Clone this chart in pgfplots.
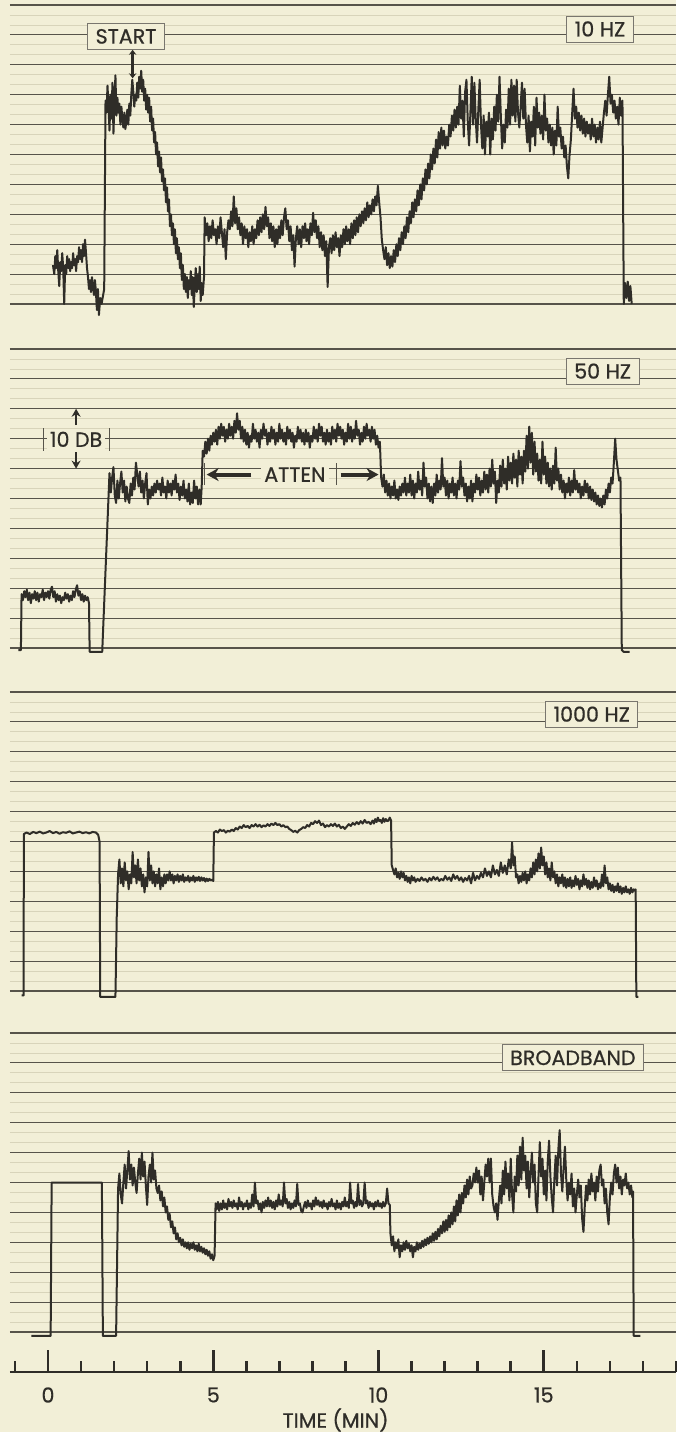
\documentclass[border=0pt]{standalone}
\usepackage{fontspec}
\setmainfont{Poppins}[FakeBold=0.7]
\usepackage{pgfplots}
\usepackage{pgfplotstable}
\pgfplotsset{compat=1.18}
\usetikzlibrary{arrows.meta}
\definecolor{paper}{HTML}{F2EFD7}
\definecolor{ink}{HTML}{2F2D28}
\definecolor{gridc}{HTML}{57544A}
\definecolor{gridl}{HTML}{D8D4BA}
\newcommand\lf{\fontsize{10.3}{12}\selectfont}

% 10 HZ
\pgfplotstableread[row sep=\\]{t d\\
0.15 1.3\\ 0.19 1.0\\ 0.22 1.6\\ 0.25 1.2\\ 0.28 1.8\\ 0.31 1.1\\ 0.34 0.6\\ 0.37 1.4\\ 0.40 1.1\\ 0.43 1.7\\ 0.46 1.2\\ 0.49 0.0\\ 0.52 1.3\\ 0.55 1.0\\ 0.58 1.6\\ 0.61 1.2\\ 0.64 1.5\\ 0.67 1.1\\ 0.70 1.4\\ 0.73 1.2\\ 0.76 1.7\\ 0.79 1.3\\ 0.82 1.5\\ 0.85 1.1\\ 0.88 1.6\\ 0.91 1.4\\ 0.94 1.9\\ 0.97 1.5\\ 1.00 1.8\\ 1.03 1.4\\ 1.06 2.0\\ 1.09 1.6\\ 1.12 2.15\\ 1.15 1.7\\ 1.18 1.2\\ 1.21 0.9\\ 1.24 0.5\\ 1.27 0.8\\ 1.30 0.4\\ 1.33 0.9\\ 1.36 0.6\\ 1.39 0.3\\ 1.42 0.8\\ 1.45 0.4\\ 1.48 -0.2\\ 1.51 0.5\\ 1.54 -0.37\\ 1.58 0.2\\ 1.62 0.0\\
1.70 0.5\\ 1.74 6.8\\ 1.77 6.4\\ 1.80 7.3\\ 1.83 6.6\\ 1.86 5.8\\ 1.89 7.0\\ 1.92 6.2\\ 1.95 7.4\\ 1.98 5.7\\ 2.01 6.8\\ 2.04 7.65\\ 2.07 6.3\\ 2.10 6.9\\ 2.13 6.4\\ 2.16 6.7\\ 2.19 6.0\\ 2.22 6.6\\ 2.25 6.2\\ 2.28 5.9\\ 2.31 6.4\\ 2.34 5.85\\ 2.37 6.1\\ 2.40 6.5\\ 2.43 6.0\\ 2.46 6.7\\ 2.49 6.3\\ 2.52 7.0\\ 2.55 7.5\\ 2.58 7.1\\ 2.61 6.6\\ 2.64 7.0\\ 2.67 6.8\\ 2.70 7.4\\ 2.73 6.9\\ 2.76 7.6\\ 2.79 7.2\\ 2.82 7.8\\ 2.85 7.1\\ 2.88 7.5\\ 2.91 6.8\\ 2.94 7.2\\ 2.97 6.5\\ 3.00 7.0\\ 3.03 6.4\\ 3.06 6.9\\ 3.09 6.1\\ 3.12 6.6\\ 3.15 5.8\\ 3.18 6.2\\ 3.21 5.4\\ 3.24 5.75\\ 3.27 5.0\\ 3.30 5.4\\ 3.33 4.6\\ 3.36 5.1\\ 3.39 4.4\\ 3.42 4.9\\ 3.45 4.1\\ 3.48 4.5\\ 3.51 3.8\\ 3.54 4.2\\ 3.57 3.4\\ 3.60 3.9\\ 3.63 3.1\\ 3.66 3.5\\ 3.69 2.6\\ 3.72 3.0\\ 3.75 2.3\\ 3.78 2.7\\ 3.81 2.0\\ 3.84 2.5\\ 3.87 1.7\\ 3.90 2.2\\ 3.93 1.5\\ 3.96 1.9\\ 3.99 1.2\\ 4.02 1.7\\ 4.05 0.8\\ 4.08 1.3\\ 4.11 0.5\\ 4.14 1.0\\ 4.17 0.4\\ 4.20 0.9\\ 4.23 0.2\\ 4.26 0.8\\ 4.29 0.5\\ 4.32 1.1\\ 4.35 0.3\\ 4.38 0.9\\ 4.41 -0.1\\ 4.44 0.6\\ 4.47 1.2\\ 4.50 0.4\\ 4.53 1.0\\ 4.56 0.5\\ 4.59 1.25\\ 4.62 0.1\\ 4.65 0.7\\ 4.68 0.3\\ 4.72 0.9\\ 4.74 2.9\\
4.78 2.3\\ 4.82 2.7\\ 4.86 2.1\\ 4.90 2.6\\ 4.94 2.2\\ 4.98 2.8\\ 5.02 2.3\\ 5.06 2.5\\ 5.10 2.0\\ 5.14 2.6\\ 5.18 2.2\\ 5.22 2.9\\ 5.26 2.4\\ 5.30 1.9\\ 5.34 2.5\\ 5.38 1.5\\ 5.42 2.4\\ 5.46 2.8\\ 5.50 2.5\\ 5.54 3.1\\ 5.58 2.6\\ 5.62 3.6\\ 5.66 2.7\\ 5.70 3.2\\ 5.74 2.5\\ 5.78 2.9\\ 5.82 2.3\\ 5.86 2.7\\ 5.90 2.0\\ 5.94 2.6\\ 5.98 2.2\\ 6.02 2.5\\ 6.06 1.9\\ 6.10 2.4\\ 6.14 2.1\\ 6.18 2.6\\ 6.22 2.0\\ 6.26 2.5\\ 6.30 2.2\\ 6.34 2.8\\ 6.38 2.3\\ 6.42 2.9\\ 6.46 2.4\\ 6.50 3.0\\ 6.54 2.5\\ 6.58 3.25\\ 6.62 2.6\\ 6.66 2.9\\ 6.70 2.2\\ 6.74 2.7\\ 6.78 2.1\\ 6.82 2.6\\ 6.86 1.9\\ 6.90 2.5\\ 6.94 2.0\\ 6.98 2.6\\ 7.02 2.2\\ 7.06 2.8\\ 7.10 2.3\\ 7.14 2.9\\ 7.18 3.2\\ 7.22 2.5\\ 7.26 2.8\\ 7.30 2.1\\ 7.34 2.6\\ 7.38 1.8\\ 7.42 2.3\\ 7.46 1.25\\ 7.50 2.2\\ 7.54 2.6\\ 7.58 2.0\\ 7.62 2.5\\ 7.66 1.9\\ 7.70 2.6\\ 7.74 2.2\\ 7.78 2.7\\ 7.82 2.1\\ 7.86 2.5\\ 7.90 2.0\\ 7.94 2.7\\ 7.98 2.3\\ 8.02 3.05\\ 8.06 2.4\\ 8.10 2.8\\ 8.14 2.2\\ 8.18 2.6\\ 8.22 1.9\\ 8.26 2.4\\ 8.30 1.8\\ 8.34 2.3\\ 8.38 1.6\\ 8.42 2.1\\ 8.46 0.57\\ 8.50 1.9\\ 8.54 2.2\\ 8.58 1.7\\ 8.62 2.3\\ 8.66 1.8\\ 8.70 2.4\\ 8.74 1.9\\ 8.78 2.2\\ 8.82 1.6\\ 8.86 2.3\\ 8.90 1.9\\ 8.94 2.5\\ 8.98 2.0\\ 9.02 2.6\\ 9.06 2.1\\ 9.10 2.5\\ 9.14 2.0\\ 9.18 2.7\\ 9.22 2.2\\ 9.26 2.8\\ 9.30 2.3\\ 9.34 2.9\\ 9.38 2.4\\ 9.42 3.0\\ 9.46 2.6\\ 9.50 3.1\\ 9.54 2.7\\ 9.58 3.2\\ 9.62 2.8\\ 9.66 3.4\\ 9.70 2.9\\ 9.74 3.3\\ 9.78 3.0\\ 9.82 3.5\\ 9.86 3.1\\ 9.90 3.6\\ 9.94 3.3\\ 9.98 3.95\\ 10.02 3.4\\ 10.06 2.9\\
10.10 2.15\\ 10.14 1.8\\ 10.18 1.5\\ 10.22 1.9\\ 10.26 1.3\\ 10.30 1.7\\ 10.34 1.2\\ 10.38 1.6\\ 10.42 1.25\\ 10.46 1.8\\ 10.50 1.4\\ 10.54 2.0\\ 10.58 1.6\\ 10.62 2.2\\ 10.66 1.8\\ 10.70 2.4\\ 10.74 2.0\\ 10.78 2.6\\ 10.82 2.2\\ 10.86 2.9\\ 10.90 2.4\\ 10.94 3.1\\ 10.98 2.7\\ 11.02 3.4\\ 11.06 2.9\\ 11.10 3.5\\ 11.14 3.1\\ 11.18 3.8\\ 11.22 3.3\\ 11.26 4.0\\ 11.30 3.5\\ 11.34 4.2\\ 11.38 3.8\\ 11.42 4.5\\ 11.46 4.0\\ 11.50 4.7\\ 11.54 4.2\\ 11.58 5.0\\ 11.62 4.5\\ 11.66 5.2\\ 11.70 4.7\\ 11.74 5.5\\ 11.78 4.9\\ 11.82 5.75\\ 11.86 5.2\\ 11.90 5.9\\ 11.94 5.3\\ 11.98 5.8\\ 12.02 5.2\\ 12.06 5.6\\ 12.10 5.3\\ 12.14 6.0\\ 12.18 5.6\\ 12.22 6.3\\ 12.26 5.8\\ 12.30 6.5\\ 12.34 5.9\\ 12.38 6.6\\ 12.42 6.0\\ 12.46 7.3\\ 12.50 6.2\\ 12.54 6.8\\ 12.58 5.6\\ 12.62 7.1\\ 12.66 7.5\\ 12.70 6.1\\ 12.74 5.3\\ 12.78 6.4\\ 12.82 7.6\\ 12.86 6.0\\ 12.90 7.4\\ 12.94 6.2\\ 12.98 5.4\\ 13.02 6.5\\ 13.06 7.5\\ 13.10 6.0\\ 13.14 5.2\\ 13.18 6.3\\ 13.22 5.0\\ 13.26 6.1\\ 13.30 5.6\\ 13.34 6.4\\ 13.38 5.0\\ 13.42 6.2\\ 13.46 5.5\\ 13.50 6.6\\ 13.54 5.8\\ 13.58 7.0\\ 13.62 6.1\\ 13.66 7.6\\ 13.70 6.3\\ 13.74 5.2\\ 13.78 6.0\\ 13.82 5.4\\ 13.86 6.5\\ 13.90 5.9\\ 13.94 7.2\\ 13.98 6.0\\ 14.02 7.5\\ 14.06 6.3\\ 14.10 7.3\\ 14.14 6.1\\ 14.18 7.5\\ 14.22 6.4\\ 14.26 5.9\\ 14.30 6.6\\ 14.34 7.4\\ 14.38 6.2\\ 14.42 7.2\\ 14.46 6.0\\ 14.50 5.4\\ 14.54 6.3\\ 14.58 5.1\\ 14.62 6.1\\ 14.66 5.6\\ 14.70 6.6\\ 14.74 5.3\\ 14.78 6.9\\ 14.82 5.9\\ 14.86 6.4\\ 14.90 5.7\\ 14.94 6.3\\ 14.98 5.5\\ 15.02 7.0\\ 15.06 5.8\\ 15.10 6.2\\ 15.14 5.4\\ 15.18 6.0\\ 15.22 5.3\\ 15.26 5.9\\ 15.30 5.0\\ 15.34 5.8\\ 15.38 5.3\\ 15.42 6.6\\ 15.46 5.6\\ 15.50 5.9\\ 15.54 5.2\\ 15.58 5.6\\ 15.62 4.9\\ 15.66 5.3\\ 15.70 4.6\\ 15.74 4.2\\ 15.78 5.0\\ 15.82 5.5\\ 15.86 6.4\\ 15.90 7.2\\ 15.94 6.2\\ 15.98 6.6\\ 16.02 5.9\\ 16.06 6.4\\ 16.10 5.8\\ 16.14 6.3\\ 16.18 5.7\\ 16.22 6.2\\ 16.26 5.6\\ 16.30 6.1\\ 16.34 5.7\\ 16.38 6.0\\ 16.42 5.5\\ 16.46 6.2\\ 16.50 5.6\\ 16.54 6.0\\ 16.58 5.4\\ 16.62 5.9\\ 16.66 5.5\\ 16.70 6.1\\ 16.74 5.4\\ 16.78 5.9\\ 16.82 6.4\\ 16.86 6.8\\ 16.90 6.3\\ 16.94 7.0\\ 16.98 7.6\\ 17.02 6.7\\ 17.06 7.0\\ 17.10 6.4\\ 17.14 6.8\\ 17.18 6.2\\ 17.22 6.6\\ 17.26 6.0\\ 17.30 6.9\\ 17.34 6.3\\ 17.38 6.8\\ 17.42 0.0\\ 17.46 0.7\\ 17.50 0.2\\ 17.54 0.75\\ 17.58 0.1\\ 17.62 0.6\\ 17.66 0.0\\
}\tenhz

% 50 HZ
\pgfplotstableread[row sep=\\]{t d\\
-0.90 -0.07\\ -0.82 -0.07\\ -0.80 1.8\\ -0.76 1.6\\ -0.72 1.9\\ -0.68 1.7\\ -0.64 1.95\\ -0.60 1.6\\ -0.56 1.85\\ -0.52 1.5\\ -0.48 1.8\\ -0.44 1.65\\ -0.40 1.9\\ -0.36 1.6\\ -0.32 1.85\\ -0.28 1.55\\ -0.24 1.8\\ -0.20 1.7\\ -0.16 1.95\\ -0.12 1.6\\ -0.08 1.85\\ -0.04 1.7\\ 0.00 1.9\\ 0.04 1.65\\ 0.08 1.95\\ 0.12 2.05\\ 0.16 1.7\\ 0.20 1.9\\ 0.24 1.55\\ 0.28 1.8\\ 0.32 1.6\\ 0.36 1.75\\ 0.40 1.5\\ 0.44 1.7\\ 0.48 1.6\\ 0.52 1.85\\ 0.56 1.65\\ 0.60 1.8\\ 0.64 1.55\\ 0.68 1.75\\ 0.72 1.6\\ 0.76 1.9\\ 0.80 1.7\\ 0.84 1.95\\ 0.88 2.1\\ 0.92 1.75\\ 0.96 1.9\\ 1.00 1.6\\ 1.04 1.8\\ 1.08 1.55\\ 1.12 1.75\\ 1.16 1.6\\ 1.20 1.7\\ 1.24 1.5\\ 1.26 -0.13\\ 1.64 -0.13\\
1.86 5.85\\ 1.90 5.2\\ 1.94 5.7\\ 1.98 6.05\\ 2.02 5.1\\ 2.06 4.85\\ 2.10 5.6\\ 2.14 5.0\\ 2.18 5.5\\ 2.22 5.9\\ 2.26 5.2\\ 2.30 5.6\\ 2.34 4.9\\ 2.38 5.4\\ 2.42 5.0\\ 2.46 4.85\\ 2.50 5.5\\ 2.54 5.1\\ 2.58 5.7\\ 2.62 5.3\\ 2.66 6.2\\ 2.70 5.8\\ 2.74 5.4\\ 2.78 5.9\\ 2.82 5.2\\ 2.86 5.6\\ 2.90 5.0\\ 2.94 5.5\\ 2.98 5.85\\ 3.02 4.8\\ 3.06 5.3\\ 3.10 5.0\\ 3.14 5.4\\ 3.18 5.1\\ 3.22 5.5\\ 3.26 5.2\\ 3.30 5.6\\ 3.34 5.3\\ 3.38 5.5\\ 3.42 5.1\\ 3.46 5.7\\ 3.50 5.2\\ 3.54 5.4\\ 3.58 5.0\\ 3.62 5.6\\ 3.66 5.2\\ 3.70 5.5\\ 3.74 5.1\\ 3.78 5.6\\ 3.82 5.3\\ 3.86 5.8\\ 3.90 5.2\\ 3.94 5.5\\ 3.98 4.95\\ 4.02 5.4\\ 4.06 5.1\\ 4.10 5.6\\ 4.14 5.0\\ 4.18 5.3\\ 4.22 4.9\\ 4.26 5.5\\ 4.30 4.8\\ 4.34 5.2\\ 4.38 4.85\\ 4.42 5.6\\ 4.46 5.0\\ 4.50 5.4\\ 4.54 4.8\\ 4.58 5.3\\ 4.62 4.8\\ 4.65 5.4\\
4.68 6.6\\ 4.72 6.4\\ 4.76 6.9\\ 4.80 6.5\\ 4.84 7.0\\ 4.88 6.6\\ 4.92 7.1\\ 4.96 6.8\\ 5.00 7.2\\ 5.04 6.9\\ 5.08 7.3\\ 5.12 6.8\\ 5.16 7.4\\ 5.20 7.0\\ 5.24 7.5\\ 5.28 7.1\\ 5.32 7.4\\ 5.36 6.9\\ 5.40 7.3\\ 5.44 7.0\\ 5.48 7.5\\ 5.52 7.1\\ 5.56 7.4\\ 5.60 7.0\\ 5.64 7.6\\ 5.68 7.2\\ 5.72 7.85\\ 5.76 7.3\\ 5.80 7.6\\ 5.84 7.0\\ 5.88 7.4\\ 5.92 6.9\\ 5.96 7.3\\ 6.00 6.8\\ 6.04 7.2\\ 6.08 6.7\\ 6.12 7.1\\ 6.16 6.9\\ 6.20 7.5\\ 6.24 7.0\\ 6.28 7.3\\ 6.32 6.9\\ 6.36 7.2\\ 6.40 6.7\\ 6.44 7.3\\ 6.48 7.0\\ 6.52 7.5\\ 6.56 7.1\\ 6.60 7.3\\ 6.64 6.8\\ 6.68 7.2\\ 6.72 6.9\\ 6.76 7.4\\ 6.80 7.0\\ 6.84 7.3\\ 6.88 6.8\\ 6.92 7.2\\ 6.96 6.9\\ 7.00 7.5\\ 7.04 7.0\\ 7.08 7.3\\ 7.12 6.9\\ 7.16 7.2\\ 7.20 6.8\\ 7.24 7.4\\ 7.28 7.0\\ 7.32 7.3\\ 7.36 6.9\\ 7.40 7.2\\ 7.44 6.7\\ 7.48 7.1\\ 7.52 6.9\\ 7.56 7.4\\ 7.60 7.0\\ 7.64 7.3\\ 7.68 6.9\\ 7.72 7.2\\ 7.76 6.8\\ 7.80 7.3\\ 7.84 6.9\\ 7.88 7.2\\ 7.92 6.7\\ 7.96 7.1\\ 8.00 6.9\\ 8.04 7.4\\ 8.08 7.0\\ 8.12 7.3\\ 8.16 6.9\\ 8.20 7.5\\ 8.24 7.1\\ 8.28 7.4\\ 8.32 6.9\\ 8.36 7.2\\ 8.40 6.8\\ 8.44 7.3\\ 8.48 6.9\\ 8.52 7.2\\ 8.56 6.8\\ 8.60 7.4\\ 8.64 7.0\\ 8.68 7.3\\ 8.72 6.9\\ 8.76 7.5\\ 8.80 7.1\\ 8.84 7.4\\ 8.88 7.0\\ 8.92 7.3\\ 8.96 6.8\\ 9.00 7.2\\ 9.04 6.9\\ 9.08 7.5\\ 9.12 7.0\\ 9.16 7.4\\ 9.20 6.9\\ 9.24 7.3\\ 9.28 7.0\\ 9.32 7.6\\ 9.36 7.1\\ 9.40 7.3\\ 9.44 6.8\\ 9.48 7.2\\ 9.52 6.9\\ 9.56 7.4\\ 9.60 7.0\\ 9.64 7.5\\ 9.68 7.1\\ 9.72 7.3\\ 9.76 6.9\\ 9.80 7.4\\ 9.84 7.0\\ 9.88 7.3\\ 9.92 6.8\\ 9.96 7.1\\ 10.00 6.7\\ 10.04 6.9\\
10.08 5.7\\ 10.12 5.4\\ 10.16 5.8\\ 10.20 5.2\\ 10.24 5.6\\ 10.28 5.1\\ 10.32 5.5\\ 10.36 5.0\\ 10.40 5.4\\ 10.44 5.1\\ 10.48 5.6\\ 10.52 5.0\\ 10.56 5.3\\ 10.60 4.95\\ 10.64 5.4\\ 10.68 5.1\\ 10.72 5.5\\ 10.76 5.2\\ 10.80 5.7\\ 10.84 5.1\\ 10.88 5.5\\ 10.92 5.2\\ 10.96 5.8\\ 11.00 5.1\\ 11.04 5.6\\ 11.08 5.0\\ 11.12 5.5\\ 11.16 5.2\\ 11.20 5.9\\ 11.24 5.3\\ 11.28 5.6\\ 11.32 5.1\\ 11.36 6.2\\ 11.40 5.4\\ 11.44 5.7\\ 11.48 5.0\\ 11.52 5.5\\ 11.56 4.9\\ 11.60 5.4\\ 11.64 4.85\\ 11.68 5.5\\ 11.72 5.1\\ 11.76 5.8\\ 11.80 5.2\\ 11.84 5.6\\ 11.88 5.3\\ 11.92 6.35\\ 11.96 5.4\\ 12.00 5.7\\ 12.04 5.1\\ 12.08 5.6\\ 12.12 5.0\\ 12.16 5.5\\ 12.20 5.2\\ 12.24 5.7\\ 12.28 5.1\\ 12.32 5.5\\ 12.36 5.0\\ 12.40 5.6\\ 12.44 5.3\\ 12.48 6.25\\ 12.52 5.4\\ 12.56 5.7\\ 12.60 5.1\\ 12.64 5.5\\ 12.68 4.9\\ 12.72 5.4\\ 12.76 5.0\\ 12.80 5.6\\ 12.84 4.9\\ 12.88 5.5\\ 12.92 5.2\\ 12.96 5.8\\ 13.00 5.3\\ 13.04 5.7\\ 13.08 5.1\\ 13.12 5.6\\ 13.16 5.2\\ 13.20 5.9\\ 13.24 5.3\\ 13.28 5.8\\ 13.32 5.2\\ 13.36 6.0\\ 13.40 5.4\\ 13.44 6.3\\ 13.48 5.5\\ 13.52 5.9\\ 13.56 4.85\\ 13.60 5.6\\ 13.64 5.2\\ 13.68 6.1\\ 13.72 5.4\\ 13.76 6.3\\ 13.80 5.5\\ 13.84 6.0\\ 13.88 5.3\\ 13.92 6.4\\ 13.96 5.6\\ 14.00 6.2\\ 14.04 5.5\\ 14.08 6.5\\ 14.12 5.7\\ 14.16 6.3\\ 14.20 5.4\\ 14.24 6.6\\ 14.28 5.8\\ 14.32 6.4\\ 14.36 5.5\\ 14.40 6.6\\ 14.44 5.9\\ 14.48 7.1\\ 14.52 6.0\\ 14.56 7.4\\ 14.60 6.2\\ 14.64 7.2\\ 14.68 5.8\\ 14.72 6.9\\ 14.76 5.9\\ 14.80 6.5\\ 14.84 5.6\\ 14.88 6.3\\ 14.92 5.5\\ 14.96 6.9\\ 15.00 5.8\\ 15.04 6.4\\ 15.08 5.5\\ 15.12 6.2\\ 15.16 5.4\\ 15.20 6.0\\ 15.24 5.3\\ 15.28 6.1\\ 15.32 5.5\\ 15.36 6.7\\ 15.40 5.6\\ 15.44 6.0\\ 15.48 5.3\\ 15.52 5.8\\ 15.56 5.2\\ 15.60 5.6\\ 15.64 5.0\\ 15.68 5.5\\ 15.72 5.2\\ 15.76 5.7\\ 15.80 5.1\\ 15.84 5.6\\ 15.88 5.2\\ 15.92 5.95\\ 15.96 5.3\\ 16.00 5.6\\ 16.04 5.2\\ 16.08 5.5\\ 16.12 5.0\\ 16.16 5.4\\ 16.20 5.1\\ 16.24 5.6\\ 16.28 5.2\\ 16.32 5.5\\ 16.36 5.0\\ 16.40 5.4\\ 16.44 4.95\\ 16.48 5.3\\ 16.52 4.9\\ 16.56 5.2\\ 16.60 4.8\\ 16.64 5.1\\ 16.68 4.75\\ 16.72 5.0\\ 16.76 4.7\\ 16.80 5.1\\ 16.84 4.8\\ 16.88 5.3\\ 16.92 5.0\\ 16.96 5.5\\ 17.00 5.2\\ 17.04 5.7\\ 17.08 5.5\\ 17.12 6.2\\ 17.16 7.0\\ 17.20 6.3\\ 17.24 5.95\\ 17.28 5.6\\ 17.32 5.7\\ 17.36 -0.07\\ 17.42 -0.13\\ 17.60 -0.13\\
}\fiftyhz

% 1000 HZ
\pgfplotstableread[row sep=\\]{t d\\
-0.80 -0.15\\ -0.74 -0.15\\ -0.73 5.25\\ -0.65 5.3\\ -0.55 5.25\\ -0.45 5.32\\ -0.35 5.28\\ -0.25 5.33\\ -0.15 5.27\\ -0.05 5.3\\ 0.05 5.35\\ 0.15 5.28\\ 0.25 5.32\\ 0.35 5.26\\ 0.45 5.31\\ 0.55 5.29\\ 0.65 5.34\\ 0.75 5.27\\ 0.85 5.3\\ 0.95 5.33\\ 1.05 5.28\\ 1.15 5.31\\ 1.25 5.27\\ 1.35 5.32\\ 1.45 5.3\\ 1.52 5.22\\ 1.56 5.0\\ 1.58 -0.2\\ 2.04 -0.2\\
2.08 2.5\\ 2.12 3.9\\ 2.16 4.4\\ 2.20 3.6\\ 2.24 4.1\\ 2.28 3.5\\ 2.32 4.3\\ 2.36 3.7\\ 2.40 4.0\\ 2.44 3.4\\ 2.48 3.9\\ 2.52 3.6\\ 2.56 4.65\\ 2.60 3.8\\ 2.64 4.2\\ 2.68 3.6\\ 2.72 4.4\\ 2.76 3.7\\ 2.80 4.1\\ 2.84 3.5\\ 2.88 3.9\\ 2.92 3.3\\ 2.96 3.8\\ 3.00 3.5\\ 3.04 4.65\\ 3.08 3.7\\ 3.12 4.2\\ 3.16 3.6\\ 3.20 4.0\\ 3.24 3.5\\ 3.28 3.9\\ 3.32 3.6\\ 3.36 4.1\\ 3.40 3.4\\ 3.44 3.8\\ 3.48 3.5\\ 3.52 3.9\\ 3.56 3.6\\ 3.60 3.9\\ 3.64 3.7\\ 3.68 4.0\\ 3.72 3.7\\ 3.76 3.9\\ 3.80 3.6\\ 3.84 3.85\\ 3.88 3.7\\ 3.92 3.9\\ 3.96 3.65\\ 4.00 3.85\\ 4.04 3.7\\ 4.08 3.9\\ 4.12 3.65\\ 4.16 3.8\\ 4.20 3.7\\ 4.24 3.85\\ 4.28 3.65\\ 4.32 3.8\\ 4.36 3.7\\ 4.40 3.85\\ 4.44 3.65\\ 4.48 3.8\\ 4.52 3.7\\ 4.56 3.82\\ 4.60 3.68\\ 4.64 3.8\\ 4.68 3.7\\ 4.72 3.78\\ 4.76 3.66\\ 4.80 3.76\\ 4.84 3.68\\ 4.88 3.75\\ 4.92 3.7\\ 4.96 3.72\\ 5.00 3.68\\
5.02 5.3\\ 5.08 5.35\\ 5.14 5.3\\ 5.20 5.4\\ 5.26 5.35\\ 5.32 5.38\\ 5.38 5.3\\ 5.44 5.36\\ 5.50 5.33\\ 5.56 5.4\\ 5.62 5.35\\ 5.68 5.45\\ 5.74 5.4\\ 5.80 5.5\\ 5.86 5.45\\ 5.92 5.55\\ 5.98 5.48\\ 6.04 5.52\\ 6.10 5.45\\ 6.16 5.55\\ 6.22 5.5\\ 6.28 5.58\\ 6.34 5.5\\ 6.40 5.56\\ 6.46 5.48\\ 6.52 5.54\\ 6.58 5.5\\ 6.64 5.58\\ 6.70 5.52\\ 6.76 5.6\\ 6.82 5.55\\ 6.88 5.62\\ 6.94 5.55\\ 7.00 5.58\\ 7.06 5.5\\ 7.12 5.55\\ 7.18 5.48\\ 7.24 5.5\\ 7.30 5.42\\ 7.36 5.38\\ 7.42 5.32\\ 7.48 5.36\\ 7.54 5.3\\ 7.60 5.38\\ 7.66 5.42\\ 7.72 5.48\\ 7.78 5.45\\ 7.84 5.55\\ 7.90 5.5\\ 7.96 5.62\\ 8.02 5.58\\ 8.08 5.68\\ 8.14 5.62\\ 8.20 5.7\\ 8.26 5.55\\ 8.32 5.6\\ 8.38 5.48\\ 8.44 5.55\\ 8.50 5.5\\ 8.56 5.58\\ 8.62 5.52\\ 8.68 5.6\\ 8.74 5.5\\ 8.80 5.56\\ 8.86 5.45\\ 8.92 5.5\\ 8.98 5.42\\ 9.04 5.5\\ 9.10 5.58\\ 9.16 5.52\\ 9.22 5.62\\ 9.28 5.56\\ 9.34 5.65\\ 9.40 5.58\\ 9.46 5.68\\ 9.52 5.6\\ 9.58 5.72\\ 9.64 5.62\\ 9.70 5.66\\ 9.76 5.58\\ 9.82 5.7\\ 9.86 5.6\\ 9.90 5.75\\ 9.94 5.65\\ 9.98 5.8\\ 10.02 5.68\\ 10.06 5.72\\ 10.10 5.62\\ 10.14 5.78\\ 10.18 5.66\\ 10.22 5.75\\ 10.26 5.68\\ 10.30 5.7\\ 10.34 5.8\\ 10.38 5.7\\
10.40 4.2\\ 10.44 4.05\\ 10.48 3.9\\ 10.52 4.1\\ 10.56 3.8\\ 10.60 3.95\\ 10.64 3.75\\ 10.68 4.0\\ 10.72 3.8\\ 10.76 3.95\\ 10.80 3.7\\ 10.84 3.85\\ 10.88 3.65\\ 10.92 3.8\\ 10.96 3.6\\ 11.00 3.85\\ 11.04 3.7\\ 11.08 3.8\\ 11.12 3.65\\ 11.18 3.75\\ 11.24 3.68\\ 11.30 3.8\\ 11.36 3.7\\ 11.42 3.75\\ 11.48 3.65\\ 11.54 3.78\\ 11.60 3.7\\ 11.66 3.82\\ 11.72 3.72\\ 11.78 3.8\\ 11.84 3.68\\ 11.90 3.75\\ 11.96 3.7\\ 12.02 3.85\\ 12.08 3.72\\ 12.14 3.8\\ 12.20 3.68\\ 12.26 3.9\\ 12.32 3.75\\ 12.38 3.85\\ 12.44 3.7\\ 12.50 3.8\\ 12.56 3.65\\ 12.62 3.78\\ 12.68 3.7\\ 12.74 3.85\\ 12.80 3.6\\ 12.86 3.95\\ 12.92 3.7\\ 12.98 3.85\\ 13.04 3.75\\ 13.10 3.95\\ 13.16 3.8\\ 13.22 4.1\\ 13.28 3.85\\ 13.34 4.0\\ 13.40 3.8\\ 13.46 4.2\\ 13.52 3.9\\ 13.58 4.05\\ 13.64 3.85\\ 13.70 4.3\\ 13.76 3.95\\ 13.82 4.2\\ 13.88 3.9\\ 13.94 4.4\\ 14.00 4.1\\ 14.04 4.97\\ 14.08 4.2\\ 14.12 4.5\\ 14.16 3.8\\ 14.20 3.9\\ 14.24 3.6\\ 14.28 3.85\\ 14.32 3.65\\ 14.36 3.95\\ 14.40 3.7\\ 14.44 4.0\\ 14.48 3.6\\ 14.52 3.9\\ 14.56 3.7\\ 14.60 4.1\\ 14.64 3.8\\ 14.68 4.3\\ 14.72 3.9\\ 14.76 4.4\\ 14.80 4.0\\ 14.84 4.6\\ 14.88 4.1\\ 14.92 4.8\\ 14.96 4.2\\ 15.00 4.5\\ 15.04 3.9\\ 15.08 4.3\\ 15.12 3.8\\ 15.16 4.1\\ 15.20 3.7\\ 15.24 4.3\\ 15.28 3.8\\ 15.32 4.0\\ 15.36 3.6\\ 15.40 3.9\\ 15.44 3.5\\ 15.48 3.8\\ 15.52 3.6\\ 15.56 3.9\\ 15.60 3.5\\ 15.64 3.8\\ 15.68 3.45\\ 15.72 3.75\\ 15.76 3.5\\ 15.80 3.8\\ 15.84 3.45\\ 15.88 3.7\\ 15.92 3.5\\ 15.96 3.85\\ 16.00 3.55\\ 16.04 3.75\\ 16.08 3.4\\ 16.12 3.7\\ 16.16 3.5\\ 16.20 3.9\\ 16.24 3.55\\ 16.28 3.75\\ 16.32 3.45\\ 16.36 3.7\\ 16.40 3.4\\ 16.44 3.65\\ 16.48 3.45\\ 16.52 3.8\\ 16.56 3.5\\ 16.60 3.7\\ 16.64 3.4\\ 16.68 3.6\\ 16.72 3.45\\ 16.76 3.9\\ 16.80 3.5\\ 16.84 4.2\\ 16.88 3.6\\ 16.92 3.8\\ 16.96 3.4\\ 17.00 3.6\\ 17.04 3.35\\ 17.08 3.55\\ 17.12 3.3\\ 17.16 3.5\\ 17.20 3.35\\ 17.24 3.6\\ 17.28 3.3\\ 17.32 3.5\\ 17.36 3.25\\ 17.40 3.45\\ 17.44 3.3\\ 17.48 3.5\\ 17.52 3.3\\ 17.56 3.4\\ 17.60 3.25\\ 17.64 3.45\\ 17.68 3.3\\ 17.72 3.4\\ 17.76 3.35\\ 17.78 3.4\\ 17.80 -0.2\\ 17.86 -0.2\\
}\kilohz

% BROADBAND
\pgfplotstableread[row sep=\\]{t d\\
-0.50 -0.13\\ 0.08 -0.13\\ 0.11 5.0\\ 0.50 5.0\\ 1.00 5.0\\ 1.63 5.0\\ 1.66 -0.13\\ 2.06 -0.13\\
2.12 4.8\\ 2.16 5.3\\ 2.20 4.6\\ 2.24 4.3\\ 2.28 5.0\\ 2.32 5.6\\ 2.36 4.8\\ 2.40 5.4\\ 2.44 6.05\\ 2.48 5.1\\ 2.52 5.6\\ 2.56 4.9\\ 2.60 5.5\\ 2.64 5.0\\ 2.68 4.65\\ 2.72 5.3\\ 2.76 5.8\\ 2.80 5.1\\ 2.84 6.0\\ 2.88 5.2\\ 2.92 5.7\\ 2.96 4.9\\ 3.00 4.25\\ 3.04 5.2\\ 3.08 5.6\\ 3.12 5.0\\ 3.16 6.0\\ 3.20 5.1\\ 3.24 5.4\\ 3.28 4.8\\ 3.32 4.65\\ 3.36 4.9\\ 3.40 4.4\\ 3.44 4.7\\ 3.48 4.2\\ 3.52 4.5\\ 3.56 4.0\\ 3.60 4.2\\ 3.64 3.75\\ 3.68 3.95\\ 3.72 3.5\\ 3.76 3.7\\ 3.80 3.3\\ 3.84 3.5\\ 3.88 3.1\\ 3.92 3.3\\ 3.96 3.0\\ 4.00 3.15\\ 4.04 2.9\\ 4.08 3.1\\ 4.12 2.85\\ 4.16 3.0\\ 4.20 2.8\\ 4.24 3.0\\ 4.28 2.75\\ 4.32 2.95\\ 4.36 2.8\\ 4.40 3.0\\ 4.44 2.75\\ 4.48 2.9\\ 4.52 2.7\\ 4.56 2.95\\ 4.60 2.7\\ 4.64 2.85\\ 4.68 2.65\\ 4.72 2.8\\ 4.76 2.6\\ 4.80 2.75\\ 4.84 2.55\\ 4.88 2.7\\ 4.92 2.45\\ 4.96 2.6\\ 5.00 2.4\\ 5.04 2.55\\
5.07 4.3\\ 5.10 4.1\\ 5.14 4.35\\ 5.18 4.05\\ 5.22 4.3\\ 5.26 4.1\\ 5.30 4.4\\ 5.34 4.15\\ 5.38 4.3\\ 5.42 4.1\\ 5.46 4.45\\ 5.50 4.2\\ 5.54 4.35\\ 5.58 4.15\\ 5.62 4.4\\ 5.66 4.2\\ 5.70 4.3\\ 5.74 4.1\\ 5.78 4.5\\ 5.82 4.2\\ 5.86 4.35\\ 5.90 4.1\\ 5.94 4.3\\ 5.98 4.2\\ 6.02 4.4\\ 6.06 4.1\\ 6.10 4.3\\ 6.14 4.15\\ 6.18 4.6\\ 6.22 4.2\\ 6.26 5.0\\ 6.30 4.3\\ 6.34 4.4\\ 6.38 4.1\\ 6.42 4.3\\ 6.46 4.0\\ 6.50 4.35\\ 6.54 4.15\\ 6.58 4.4\\ 6.62 4.2\\ 6.66 4.5\\ 6.70 4.2\\ 6.74 4.4\\ 6.78 4.15\\ 6.82 4.35\\ 6.86 4.1\\ 6.90 4.4\\ 6.94 4.2\\ 6.98 4.6\\ 7.02 4.25\\ 7.06 4.4\\ 7.10 4.2\\ 7.14 5.0\\ 7.18 4.3\\ 7.22 4.45\\ 7.26 4.15\\ 7.30 4.35\\ 7.34 4.1\\ 7.38 4.3\\ 7.42 4.15\\ 7.46 4.4\\ 7.50 4.2\\ 7.54 4.95\\ 7.58 4.25\\ 7.62 4.3\\ 7.66 4.05\\ 7.70 4.0\\ 7.74 4.2\\ 7.78 4.35\\ 7.82 4.15\\ 7.86 4.4\\ 7.90 4.2\\ 7.94 4.3\\ 7.98 4.1\\ 8.02 4.4\\ 8.06 4.2\\ 8.10 4.5\\ 8.14 4.25\\ 8.18 4.4\\ 8.22 4.2\\ 8.26 4.35\\ 8.30 4.15\\ 8.34 4.4\\ 8.38 4.2\\ 8.42 4.3\\ 8.46 4.1\\ 8.50 4.35\\ 8.54 4.2\\ 8.58 4.45\\ 8.62 4.2\\ 8.66 4.3\\ 8.70 4.1\\ 8.74 4.4\\ 8.78 4.15\\ 8.82 4.3\\ 8.86 4.1\\ 8.90 4.35\\ 8.94 4.2\\ 8.98 4.5\\ 9.02 4.2\\ 9.06 4.35\\ 9.10 4.15\\ 9.14 5.0\\ 9.18 4.3\\ 9.22 4.4\\ 9.26 4.15\\ 9.30 4.35\\ 9.34 4.2\\ 9.38 4.95\\ 9.42 4.25\\ 9.46 4.4\\ 9.50 4.2\\ 9.54 4.3\\ 9.58 5.0\\ 9.62 4.3\\ 9.66 4.4\\ 9.70 4.15\\ 9.74 4.35\\ 9.78 4.2\\ 9.82 4.3\\ 9.86 4.1\\ 9.90 4.35\\ 9.94 4.2\\ 9.98 4.4\\ 10.02 4.2\\ 10.06 4.3\\ 10.10 4.15\\ 10.14 4.35\\ 10.18 4.2\\ 10.22 4.3\\ 10.26 4.8\\ 10.30 4.3\\ 10.34 4.25\\
10.36 3.3\\ 10.40 2.9\\ 10.44 3.2\\ 10.48 2.7\\ 10.52 3.0\\ 10.56 2.8\\ 10.60 3.1\\ 10.64 2.5\\ 10.68 2.9\\ 10.72 2.7\\ 10.76 3.0\\ 10.80 2.75\\ 10.84 3.05\\ 10.88 2.8\\ 10.92 2.95\\ 10.96 2.7\\ 11.00 2.9\\ 11.04 2.5\\ 11.08 2.85\\ 11.12 2.7\\ 11.16 3.0\\ 11.20 2.75\\ 11.24 2.95\\ 11.28 2.8\\ 11.32 3.05\\ 11.36 2.85\\ 11.40 3.1\\ 11.44 2.9\\ 11.48 3.15\\ 11.52 2.95\\ 11.56 3.2\\ 11.60 3.0\\ 11.64 3.3\\ 11.68 3.05\\ 11.72 3.35\\ 11.76 3.1\\ 11.80 3.45\\ 11.84 3.2\\ 11.88 3.55\\ 11.92 3.3\\ 11.96 3.7\\ 12.00 3.35\\ 12.04 3.75\\ 12.08 3.4\\ 12.12 3.9\\ 12.16 3.5\\ 12.20 4.0\\ 12.24 3.6\\ 12.28 4.2\\ 12.32 3.7\\ 12.36 4.4\\ 12.40 3.9\\ 12.44 4.6\\ 12.48 4.0\\ 12.52 4.65\\ 12.56 4.3\\ 12.60 4.9\\ 12.64 4.5\\ 12.68 5.1\\ 12.72 4.6\\ 12.76 5.2\\ 12.80 4.8\\ 12.84 4.9\\ 12.88 5.3\\ 12.92 5.0\\ 12.96 5.5\\ 13.00 5.0\\ 13.04 5.4\\ 13.08 4.6\\ 13.12 5.2\\ 13.16 4.4\\ 13.20 5.0\\ 13.24 5.6\\ 13.28 5.2\\ 13.32 5.8\\ 13.36 5.0\\ 13.40 5.8\\ 13.44 4.6\\ 13.48 4.2\\ 13.52 4.0\\ 13.56 4.3\\ 13.60 3.75\\ 13.64 4.4\\ 13.68 4.9\\ 13.72 4.3\\ 13.76 5.4\\ 13.80 4.6\\ 13.84 5.7\\ 13.88 4.8\\ 13.92 5.3\\ 13.96 4.4\\ 14.00 5.8\\ 14.04 4.6\\ 14.08 4.0\\ 14.12 5.2\\ 14.16 4.7\\ 14.20 5.9\\ 14.24 4.9\\ 14.28 6.2\\ 14.32 5.1\\ 14.36 6.5\\ 14.40 5.4\\ 14.44 5.9\\ 14.48 4.8\\ 14.52 5.7\\ 14.56 4.5\\ 14.60 5.3\\ 14.64 6.0\\ 14.68 5.0\\ 14.72 5.6\\ 14.76 4.3\\ 14.80 4.0\\ 14.84 5.2\\ 14.88 6.35\\ 14.92 5.2\\ 14.96 5.8\\ 15.00 4.6\\ 15.04 5.4\\ 15.08 4.4\\ 15.12 5.7\\ 15.16 6.4\\ 15.20 5.2\\ 15.24 4.5\\ 15.28 4.0\\ 15.32 5.1\\ 15.36 5.9\\ 15.40 4.9\\ 15.44 6.1\\ 15.48 6.75\\ 15.52 5.3\\ 15.56 4.7\\ 15.60 5.5\\ 15.64 6.2\\ 15.68 5.1\\ 15.72 4.4\\ 15.76 5.0\\ 15.80 4.6\\ 15.84 5.3\\ 15.88 4.2\\ 15.92 4.8\\ 15.96 4.0\\ 16.00 4.6\\ 16.04 5.1\\ 16.08 4.5\\ 16.12 4.9\\ 16.16 3.8\\ 16.20 3.35\\ 16.24 4.2\\ 16.28 4.9\\ 16.32 4.4\\ 16.36 5.1\\ 16.40 4.6\\ 16.44 5.3\\ 16.48 4.7\\ 16.52 5.0\\ 16.56 4.4\\ 16.60 5.2\\ 16.64 4.7\\ 16.68 5.4\\ 16.72 5.6\\ 16.76 4.9\\ 16.80 5.1\\ 16.84 4.3\\ 16.88 4.8\\ 16.92 4.0\\ 16.96 3.6\\ 17.00 4.5\\ 17.04 5.0\\ 17.08 4.6\\ 17.12 5.3\\ 17.16 5.6\\ 17.20 5.0\\ 17.24 5.5\\ 17.28 4.8\\ 17.32 5.2\\ 17.36 4.6\\ 17.40 5.1\\ 17.44 4.9\\ 17.48 5.3\\ 17.52 4.8\\ 17.56 5.0\\ 17.60 4.6\\ 17.64 4.9\\ 17.68 4.5\\ 17.70 4.7\\ 17.72 -0.13\\ 17.92 -0.13\\
}\broad

\pgfplotsset{
  panel/.style={anchor=south west, width=333pt, height=149.5pt, scale only axis,
    xmin=-1.15, xmax=19, ymin=0, ymax=10, clip=false,
    axis line style={draw=none}, xtick=\empty, ytick={0,1,...,10}, yticklabels={},
    tick style={draw=none}, major tick length=0pt, minor tick length=0pt,
    minor y tick num=2, ymajorgrids, yminorgrids,
    major grid style={gridc, line width=0.55pt},
    minor grid style={gridl, line width=0.4pt}},
  trace/.style={ink, line width=1.0pt, line join=round, no marks}
}
\tikzset{
  lbl/.style={draw=gridc!80, line width=0.4pt, fill=paper, font=\lf, inner xsep=4pt, inner ysep=2pt, minimum height=13pt, text=ink},
  plain/.style={fill=paper, font=\lf, text=ink, inner sep=1.5pt}
}

\begin{document}
\begin{tikzpicture}
\fill[paper] (0,0) rectangle (338pt,716pt);
\useasboundingbox (0,0) rectangle (338pt,716pt);

% 10 HZ
\begin{axis}[panel, at={(5pt,564pt)}]
\addplot[trace] table[x=t, y=d] {\tenhz};
\node[lbl] at (axis cs:2.36,8.95) {START};
\node[lbl] at (axis cs:16.7,9.2) {10 HZ};
\draw[ink, line width=1.4pt, {Stealth[length=2.5pt,width=3.8pt]}-{Stealth[length=2.5pt,width=3.8pt]}] (axis cs:2.56,7.55) -- (axis cs:2.56,8.5);
\end{axis}

% 50 HZ
\begin{axis}[panel, at={(5pt,392pt)}]
\addplot[trace] table[x=t, y=d] {\fiftyhz};
\node[lbl] at (axis cs:16.78,9.26) {50 HZ};
\node[plain] at (axis cs:0.85,6.98) {10 DB};
\draw[gridc, line width=0.4pt] (axis cs:-0.15,6.6) -- (axis cs:-0.15,7.35);
\draw[gridc, line width=0.4pt] (axis cs:1.87,6.6) -- (axis cs:1.87,7.35);
\draw[ink, line width=0.9pt, -{Stealth[length=4pt,width=4.5pt]}] (axis cs:0.85,7.45) -- (axis cs:0.85,8.0);
\draw[ink, line width=0.9pt, -{Stealth[length=4pt,width=4.5pt]}] (axis cs:0.85,6.55) -- (axis cs:0.85,6.0);
\node[plain] at (axis cs:7.47,5.8) {ATTEN};
\draw[ink, line width=2pt, -{Stealth[length=6pt,width=6.5pt]}] (axis cs:6.15,5.8) -- (axis cs:4.8,5.8);
\draw[ink, line width=2pt, -{Stealth[length=6pt,width=6.5pt]}] (axis cs:8.85,5.8) -- (axis cs:10.0,5.8);
\draw[gridc, line width=0.4pt] (axis cs:4.74,5.45) -- (axis cs:4.74,6.2);
\draw[gridc, line width=0.4pt] (axis cs:8.74,5.45) -- (axis cs:8.74,6.2);
\end{axis}

% 1000 HZ
\begin{axis}[panel, at={(5pt,220.5pt)}]
\addplot[trace] table[x=t, y=d] {\kilohz};
\node[lbl] at (axis cs:16.45,9.26) {1000 HZ};
\end{axis}

% BROADBAND
\begin{axis}[panel, at={(5pt,50pt)}]
\addplot[trace] table[x=t, y=d] {\broad};
\node[lbl] at (axis cs:15.88,9.17) {BROADBAND};
\end{axis}

% time axis
\begin{axis}[at={(5pt,30pt)}, anchor=south west, width=333pt, height=10pt, scale only axis,
  xmin=-1.15, xmax=19, ymin=0, ymax=1, clip=false,
  axis y line=none, axis x line*=bottom, ytick=\empty,
  x axis line style={ink, line width=1.1pt},
  xtick={0,5,10,15}, xticklabels={0,5,10,15},
  minor xtick={-1,1,2,3,4,6,7,8,9,11,12,13,14,16,17,18,19},
  tick align=inside, major tick length=11pt, minor tick length=5.5pt,
  tick style={ink, line width=1.3pt},
  xticklabel style={font=\lf, text=ink, anchor=center, yshift=-11.5pt}]
\node[font=\lf, text=ink] at (axis cs:8.7,0) [yshift=-24pt] {TIME (MIN)};
\end{axis}
\end{tikzpicture}
\end{document}
